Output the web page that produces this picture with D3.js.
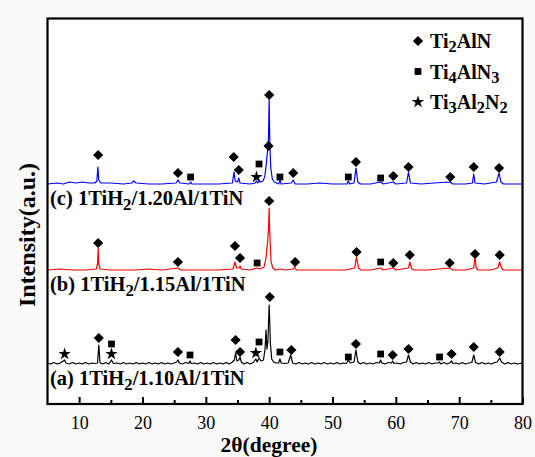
<!DOCTYPE html>
<html><head><meta charset="utf-8">
<script src="https://cdn.jsdelivr.net/npm/d3@7"></script>
<style>
html,body{margin:0;padding:0;background:#fafafa;}
svg{display:block;}
text{font-family:"Liberation Serif","Times New Roman",serif;fill:#000;}
</style></head>
<body>
<svg id="chart" width="535" height="457"></svg>
<script>
// ---------- DATA (2θ in degrees, intensity in arbitrary units) ----------
const xTicks = [10, 20, 30, 40, 50, 60, 70, 80];
const xMinorTicks = [15, 25, 35, 45, 55, 65, 75];

const sampleLabels = ["(c) 1TiH|2|/1.20Al/1TiN", "(b) 1TiH|2|/1.15Al/1TiN", "(a) 1TiH|2|/1.10Al/1TiN"];
const sampleColors = ["#0000ff", "#ff0000", "#000000"];
const sampleBaselines = [220, 134, 40];

const curveC = [[5,220],[6.5,221],[7.5,220],[8.5,222],[9.5,221],[10.5,222],[11.5,221],[12.5,221],[12.8,223],[12.95,237],[13.1,224],[13.4,221],[15,221],[17,220],[18.3,221],[18.6,223],[19,221],[21,220],[23,220],[25.3,221],[25.6,224],[25.9,221],[27.4,220],[27.6,222],[27.8,220],[30,220],[32,220],[34.2,221],[34.45,232],[34.65,223],[35.0,222],[35.2,226],[35.4,221],[37,220],[37.8,221],[38.0,223],[38.2,221],[38.4,223],[38.6,222],[39.0,223],[39.3,227],[39.55,240],[39.75,254],[39.9,268],[40.0,304],[40.1,262],[40.25,236],[40.5,225],[40.8,222],[41.5,220],[41.7,224],[41.9,220],[43.5,221],[43.8,224],[44.1,220],[46,220],[48,221],[50,220],[52.3,220],[52.5,223],[52.7,220],[53.4,221],[53.7,236],[54.0,222],[54.4,220],[56,220],[57.6,222],[58,220],[59.6,222],[60,220],[61.7,221],[62.0,232],[62.3,221],[64,220],[66,221],[68.6,222],[69,220],[71,220],[72.1,221],[72.3,230],[72.5,221],[74,220],[75.9,222],[76.3,231],[76.6,222],[77,220],[80,220]];

const curveB = [[5,134],[7,135],[9,134],[11,134],[12.7,135],[12.9,140],[13.0,156],[13.1,140],[13.3,135],[15,134],[17,134],[19,134],[21,135],[23,134],[25.6,136],[26,134],[28,134],[30,134],[32,134],[34.3,135],[34.6,142],[34.85,136],[35.2,136],[35.4,138],[35.6,135],[37,134],[38.1,136],[38.5,135],[39.2,137],[39.5,146],[39.75,162],[39.9,175],[40.0,196],[40.1,170],[40.3,142],[40.6,136],[41,134],[41.7,135],[42.5,134],[43.8,135],[44.0,137],[44.3,134],[46,134],[48,134],[50,134],[52,134],[53.5,136],[53.8,147],[54.1,136],[54.5,134],[56,134],[57.6,136],[58,134],[59.6,136],[60,134],[62.0,136],[62.2,142],[62.5,135],[63,134],[65,134],[68.5,136],[69,134],[71,134],[72.3,136],[72.5,147],[72.7,136],[73,134],[75,134],[76.1,136],[76.4,142],[76.7,136],[77,134],[80,134]];

const curveA = [[5,41],[5.5,40],[6,41.5],[6.5,40],[7,41],[7.5,43],[7.7,44],[7.9,41],[8.4,40],[9,41.5],[9.5,40],[10,41],[10.5,40],[11,41.5],[11.5,40],[12,41],[12.5,40.5],[12.9,41],[13.1,59],[13.3,41],[13.7,40],[14.2,41.5],[14.7,40],[15.1,44],[15.4,40.5],[16,41],[16.5,40],[17,41.5],[17.5,40],[18,41],[18.5,40],[19,41.5],[19.5,40],[20,41],[20.5,40],[21,41.5],[21.5,40],[22,41],[22.5,40],[23,41.5],[23.5,40],[24,41],[24.5,40],[25,41],[25.4,42],[25.6,44],[25.8,41],[26.3,40],[26.8,41.5],[27.3,40.5],[27.5,43],[27.7,40.5],[28.2,41],[28.7,40],[29.2,41.5],[29.7,40],[30.2,41],[30.7,40],[31.2,41.5],[31.7,40],[32.2,41],[32.7,40],[33.2,41.5],[33.7,40],[34.2,42],[34.5,44],[34.7,51],[34.9,43],[35.2,44],[35.4,47],[35.6,42],[36,40],[36.5,41.5],[37,40],[37.5,41.5],[37.9,45],[38.1,42],[38.4,46],[38.7,43],[39.1,44],[39.35,55],[39.5,74],[39.65,55],[39.8,62],[40.0,99],[40.2,60],[40.4,45],[40.7,42],[41.1,41],[41.5,41],[41.7,45],[41.9,41],[42.4,40.5],[43,41],[43.4,49],[43.7,41],[44.2,40],[44.7,41.5],[45.2,40],[45.7,41],[46.2,40],[46.7,41.5],[47.2,40],[47.7,41],[48.2,40],[48.7,41.5],[49.2,40],[49.7,41],[50.2,40],[50.7,41.5],[51.2,40],[51.7,41],[52.2,40.5],[52.5,44],[52.8,41],[53.4,42],[53.7,54],[54.0,42],[54.4,40],[54.9,41.5],[55.4,40],[55.9,41],[56.4,40],[56.9,41.5],[57.4,41],[57.6,44],[57.8,41],[58.3,40],[58.8,41.5],[59.3,41],[59.5,43],[59.7,40.5],[60.2,41],[60.7,40],[61.2,41.5],[61.7,42],[62.0,49],[62.3,42],[62.7,40],[63.2,41.5],[63.7,40],[64.2,41],[64.7,40],[65.2,41.5],[65.7,40],[66.2,41],[66.7,41],[66.9,42],[67.1,40],[67.6,41.5],[68.1,40],[68.6,41.5],[68.8,43],[69,40.5],[69.5,41],[70,40],[70.5,41.5],[71,40],[71.5,41],[72.0,41.5],[72.3,49],[72.6,41.5],[73.1,40],[73.6,41.5],[74.1,40],[74.6,41],[75.1,40],[75.6,41.5],[76.0,42],[76.4,46],[76.7,42],[77.2,40],[77.7,41.5],[78.2,40],[78.7,41],[79.2,40],[80,41]];

// phase markers: [2θ, intensity, phase]  D = Ti2AlN, S = Ti4AlN3, T = Ti3Al2N2
const markersC = [[13.0,249,"D"],[25.6,231,"D"],[27.6,227,"S"],[34.4,247,"D"],[35.2,234,"D"],[38.0,227,"T"],[38.4,240,"S"],[39.9,258,"D"],[40.0,309,"D"],[41.7,227,"S"],[43.8,231,"D"],[52.5,227,"S"],[53.7,242,"D"],[57.6,226,"S"],[59.6,228,"D"],[62.0,237,"D"],[68.6,227,"D"],[72.3,237,"D"],[76.3,236,"D"]];
const markersB = [[13.0,161,"D"],[25.6,142,"D"],[34.6,158,"D"],[35.4,146,"D"],[38.1,141,"S"],[40.0,203,"D"],[44.1,142,"D"],[53.8,152,"D"],[57.6,142,"S"],[59.6,141,"D"],[62.2,149,"D"],[68.5,141,"D"],[72.5,150,"D"],[76.4,149,"D"]];
const markersA = [[7.7,50,"T"],[13.1,66,"D"],[15.1,60,"S"],[15.1,50,"T"],[25.6,52,"D"],[27.5,49,"S"],[34.7,64,"D"],[35.4,52,"D"],[37.9,51,"T"],[38.4,62,"S"],[40.1,107,"D"],[41.7,52,"S"],[43.5,54,"D"],[52.5,47,"S"],[53.7,60,"D"],[57.6,50,"S"],[59.5,49,"D"],[62.0,55,"D"],[66.9,47,"S"],[68.8,50,"D"],[72.3,57,"D"],[76.4,52,"D"]];

const legendNames = ["Ti|2|AlN", "Ti|4|AlN|3|", "Ti|3|Al|2|N|2|"];
const legendShapes = ["D", "S", "T"];

// ---------- DRAWING ----------
const svg = d3.select("#chart");
const W = 535, H = 457;
const m = {left: 47.5, right: 12.5, top: 18.5, bottom: 53};
const x = d3.scaleLinear().domain([5, 80]).range([m.left, W - m.right]);
const y = d3.scaleLinear().domain([0, 385.5]).range([H - m.bottom, m.top]);

svg.append("rect").attr("x", x(5)).attr("y", y(385.5))
  .attr("width", x(80) - x(5)).attr("height", y(0) - y(385.5)).attr("fill", "#fff");

const line = d3.line().x(d => x(d[0])).y(d => y(d[1]));
[curveC, curveB, curveA].forEach((c, i) => {
  svg.append("path").datum(c).attr("d", line).attr("fill", "none")
    .attr("stroke", sampleColors[i]).attr("stroke-width", 1.2).attr("stroke-linejoin", "round");
});

const symGen = {
  D: d3.symbol().type(d3.symbolSquare).size(52),
  S: d3.symbol().type(d3.symbolSquare).size(46),
  T: d3.symbol().type(d3.symbolStar).size(48)
};
function drawMarker(g, px, py, shape) {
  g.append("path").attr("d", symGen[shape]())
    .attr("transform", `translate(${px},${py})` + (shape === "D" ? " rotate(45)" : ""))
    .attr("fill", "#000");
}
const mg = svg.append("g");
[markersC, markersB, markersA].forEach(ms => ms.forEach(d => drawMarker(mg, x(d[0]), y(d[1]), d[2])));

// rich text with subscripts: segments between | are subscripts
function richText(t, str) {
  str.split("|").forEach((s, i) => {
    if (!s) return;
    const ts = t.append("tspan").text(s);
    if (i % 2 === 1) ts.attr("baseline-shift", "-28%").attr("font-size", "82%");
  });
}

// sample labels
sampleLabels.forEach((lab, i) => {
  const t = svg.append("text").attr("x", 50).attr("y", y(sampleBaselines[i]) + 21)
    .attr("font-size", 20.5).attr("font-weight", "bold");
  richText(t, lab);
});

// legend
legendNames.forEach((n, i) => {
  const cy = 41 + i * 30.5;
  drawMarker(svg, 418, cy, legendShapes[i]);
  const t = svg.append("text").attr("x", 430).attr("y", cy + 7)
    .attr("font-size", 20).attr("font-weight", "bold");
  richText(t, n);
});

// axes
const ax = svg.append("g").attr("transform", `translate(0,${y(0)})`)
  .call(d3.axisBottom(x).tickValues(xTicks).tickSizeInner(-7).tickSizeOuter(0).tickPadding(12).tickFormat(d3.format("d")));
ax.select(".domain").remove();
ax.selectAll(".tick line").attr("stroke", "#000").attr("stroke-width", 2);
ax.selectAll("text").attr("font-size", 18).attr("font-family", "'Liberation Serif','Times New Roman',serif");
const axm = svg.append("g").attr("transform", `translate(0,${y(0)})`)
  .call(d3.axisBottom(x).tickValues(xMinorTicks).tickSizeInner(-4).tickSizeOuter(0).tickFormat(""));
axm.select(".domain").remove();
axm.selectAll(".tick line").attr("stroke", "#000").attr("stroke-width", 2);

// frame
svg.append("rect").attr("x", x(5)).attr("y", y(385.5))
  .attr("width", x(80) - x(5)).attr("height", y(0) - y(385.5))
  .attr("fill", "none").attr("stroke", "#000").attr("stroke-width", 2.2);

// titles
svg.append("text").attr("x", 269).attr("y", 452).attr("text-anchor", "middle")
  .attr("font-size", 21.5).attr("font-weight", "bold").text("2θ(degree)");
svg.append("text").attr("transform", "translate(35,235) rotate(-90)").attr("text-anchor", "middle")
  .attr("font-size", 24).attr("font-weight", "bold").text("Intensity(a.u.)");
</script>
</body></html>
